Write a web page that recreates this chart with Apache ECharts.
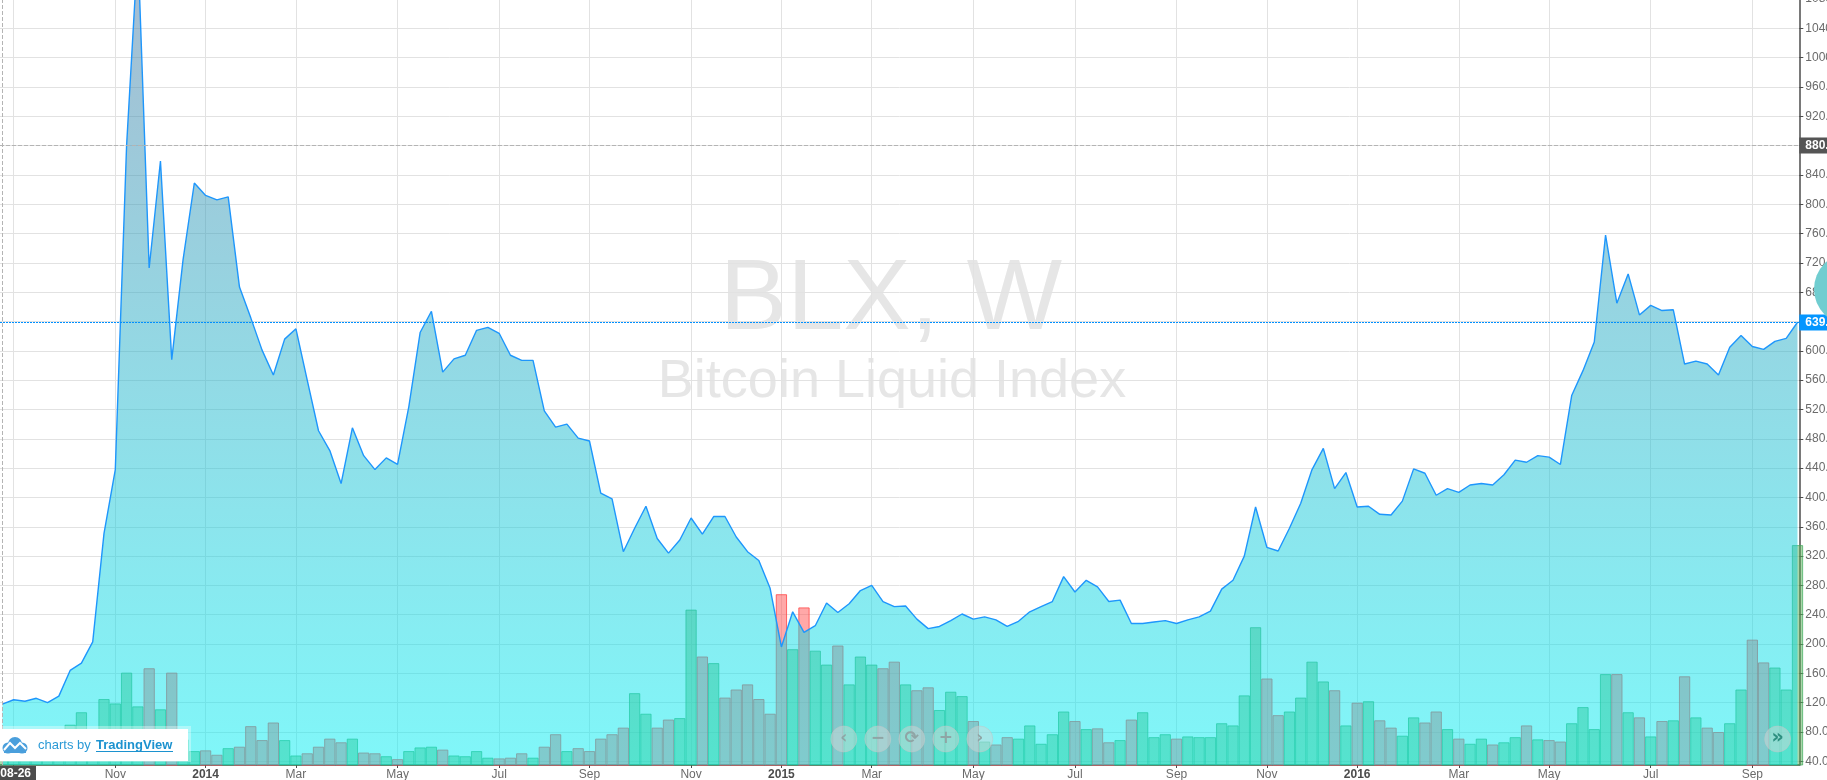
<!DOCTYPE html>
<html>
<head>
<meta charset="utf-8">
<style>html,body{margin:0;padding:0;background:#fff;overflow:hidden}#chart{width:1827px;height:780px}</style>
<script src="https://cdn.jsdelivr.net/npm/echarts@6/dist/echarts.min.js"></script>
</head>
<body>
<div id="chart"></div>
<script>
// Weekly close of the Bitcoin Liquid Index, one value per bar
const closeValues = [
118,124,122,126,120,129,164,174,203,351,
438,880,1150,713,859,588,724,829,812,806,
810,687,645,601,567,616,630,560,491,464,
419,495,457,438,454,445,524,625,654,571,
589,594,628,632,624,594,587,587,518,496,
500,481,477,406,398,326,358,388,344,324,
342,372,350,374,374,346,326,314,276,196,
244,216,225,256,243,255,273,280,258,251,
252,234,221,224,232,241,234,237,233,224,
231,244,251,258,292,271,287,278,258,260,
228,228,230,232,228,233,237,245,275,287,
320,387,332,327,358,392,438,467,412,434,
387,388,377,376,395,439,433,403,412,407,
417,419,417,431,451,448,457,455,445,539,
573,612,758,665,705,649,662,655,656,582,
586,582,567,605,621,606,602,613,617,639
];
// Volume bar heights, expressed on the price scale
const volumeValues = [
60,55,62,60,65,70,90,107,80,125,
119,161,115,167,111,161,70,54,55,49,
58,60,88,69,93,69,48,51,60,71,
66,71,52,51,47,43,54,59,60,56,
48,47,54,45,44,45,51,45,60,77,
54,58,54,71,77,86,133,105,86,97,
99,247,183,174,127,138,145,125,105,268,
193,250,191,172,198,145,183,172,167,176,
145,137,141,110,135,129,95,67,63,73,
71,89,64,77,108,95,84,85,66,69,
97,107,73,77,71,74,73,73,92,89,
130,223,153,103,108,127,176,149,137,89,
120,122,96,86,75,100,93,108,84,71,
64,71,63,66,73,89,70,69,67,92,
114,84,159,159,107,100,74,95,96,156,
100,86,80,92,138,206,175,168,138,335
];
// Bars whose close fell (red volume colour)
const downWeeks = [13,15,18,19,21,22,23,24,27,28,29,30,32,33,35,39,44,45,46,48,49,51,52,53,54,55,58,59,62,64,65,66,67,68,69,71,74,78,79,81,82,86,88,89,95,97,98,100,104,112,113,118,120,122,123,126,127,129,132,135,137,138,143,145,147,149,151,152,155,156];
// Month ticks: week index and label
const tickWeeks  = [1,10,18,26,35,44,52,61,69,77,86,95,104,112,120,129,137,146,155];
const tickLabels = ['Sep','Nov','2014','Mar','May','Jul','Sep','Nov','2015','Mar','May','Jul','Sep','Nov','2016','Mar','May','Jul','Sep'];
const priceTicks = [40,80,120,160,200,240,280,320,360,400,440,480,520,560,600,640,680,720,760,800,840,880,920,960,1000,1040,1080];
const lastPrice = 638.7;
const crosshairPrice = 880;
const crosshairWeek = 0;

const UP_FILL='rgba(85,175,85,0.5)', UP_EDGE='rgba(60,170,90,0.7)';
const DN_FILL='rgba(255,82,82,0.5)', DN_EDGE='rgba(255,70,70,0.8)';
const down = new Set(downWeeks);
const labelFor = new Map(tickWeeks.map((w,i)=>[w,tickLabels[i]]));

const chart = echarts.init(document.getElementById('chart'),null,{renderer:'canvas'});
const navX=[843.8,877.8,911.8,945.8,979.8], navG=['‹','−','⟳','+','›'];
const overlay=[];
navX.forEach((x,i)=>{
  overlay.push({type:'circle',shape:{cx:x,cy:739,r:13},style:{fill:'rgba(205,215,215,0.5)',stroke:'rgba(190,200,200,0.5)',lineWidth:1},z:100,silent:true});
  overlay.push({type:'text',x:x,y:739,style:{text:navG[i],fill:'#8fa5a5',font:'bold 17px "DejaVu Sans"',textAlign:'center',textVerticalAlign:'middle'},z:101,silent:true});
});
overlay.push(
  {type:'circle',shape:{cx:1777.6,cy:739,r:13},style:{fill:'rgba(205,215,215,0.5)',stroke:'rgba(190,200,200,0.5)',lineWidth:1},z:100,silent:true},
  {type:'text',x:1777.6,y:738,style:{text:'»',fill:'#2e8f80',font:'bold 19px "DejaVu Sans"',textAlign:'center',textVerticalAlign:'middle'},z:101,silent:true},
  // large teal disc cut by the right edge
  {type:'circle',shape:{cx:1850,cy:289,r:36},style:{fill:'#70cdd0'},z:105,silent:true},
  // date crosshair label
  {type:'rect',shape:{x:0,y:766,width:36,height:14},style:{fill:'#4c4c4c'},z:110,silent:true},
  {type:'text',x:31,y:774,style:{text:'2013-08-26',fill:'#fff',font:'bold 12px "Liberation Sans"',textAlign:'right',textVerticalAlign:'middle'},z:111,silent:true},
  // TradingView badge
  {type:'rect',shape:{x:0,y:726,width:191,height:36},style:{fill:'rgba(255,255,255,0.35)'},z:110,silent:true},
  {type:'rect',shape:{x:0,y:729,width:188,height:32},style:{fill:'#fff'},z:111,silent:true},
  {type:'circle',shape:{cx:8,cy:748,r:5.5},style:{fill:'#4a9fdc'},z:112,silent:true},
  {type:'circle',shape:{cx:15,cy:744,r:7},style:{fill:'#4a9fdc'},z:112,silent:true},
  {type:'circle',shape:{cx:22,cy:748,r:5.5},style:{fill:'#4a9fdc'},z:112,silent:true},
  {type:'rect',shape:{x:4,y:748,width:22,height:5},style:{fill:'#4a9fdc'},z:112,silent:true},
  {type:'polyline',shape:{points:[[4,750],[10,743],[15,748],[20,743],[26,749]]},style:{stroke:'#fff',lineWidth:2,fill:null},z:113,silent:true},
  {type:'text',x:38,y:745,style:{text:'charts by',fill:'#2b9ad6',font:'13px "Liberation Sans"',textVerticalAlign:'middle'},z:112,silent:true},
  {type:'text',x:96,y:745,style:{text:'TradingView',fill:'#1c92cf',font:'bold 13px "Liberation Sans"',textVerticalAlign:'middle'},z:112,silent:true},
  {type:'rect',shape:{x:96,y:751,width:77,height:1},style:{fill:'#1c92cf'},z:112,silent:true}
);

chart.setOption({
  animation:false,
  backgroundColor:'#fff',
  grid:{left:0,top:-1,width:1799.3,height:766,containLabel:false,outerBoundsMode:'none'},
  xAxis:{
    type:'value',min:-0.2126,max:159.16,
    axisLine:{show:true,onZero:false,lineStyle:{color:'#4c4c4c',width:1.5}},
    axisTick:{show:true,length:3,customValues:tickWeeks,lineStyle:{color:'#4c4c4c'}},
    splitLine:{show:true,lineStyle:{color:'#e2e2e2',width:1}},
    axisLabel:{
      customValues:tickWeeks,margin:4,fontFamily:'Liberation Sans',fontSize:12,color:'#6a6a6a',
      formatter:v=>{const s=labelFor.get(v)||'';return /^20/.test(s)?'{y|'+s+'}':s;},
      rich:{y:{fontFamily:'Liberation Sans',fontSize:12,fontWeight:'bold',color:'#4c4c4c'}}
    }
  },
  yAxis:{
    type:'value',min:35,max:1080,position:'right',
    axisLine:{show:true,onZero:false,lineStyle:{color:'#4c4c4c',width:1.5}},
    axisTick:{show:true,length:4,customValues:priceTicks,lineStyle:{color:'#4c4c4c'}},
    splitLine:{show:true,lineStyle:{color:'#e2e2e2',width:1}},
    axisLabel:{customValues:priceTicks,margin:6,fontFamily:'Liberation Sans',fontSize:12,color:'#6a6a6a',formatter:v=>v.toFixed(1)}
  },
  graphic:{elements:[
    {type:'text',x:891,y:301,z:0,silent:true,style:{text:'BLX, W',fill:'#e6e6e6',font:'101px "Liberation Sans"',textAlign:'center',textVerticalAlign:'middle'}},
    {type:'text',x:892,y:382,z:0,silent:true,style:{text:'Bitcoin Liquid Index',fill:'#e6e6e6',font:'54px "Liberation Sans"',textAlign:'center',textVerticalAlign:'middle'}},
    ...overlay
  ]},
  series:[
    {
      type:'bar',name:'Volume',z:2,barWidth:11.29,
      data:volumeValues.map((v,i)=>({value:[i,v],itemStyle:{color:down.has(i)?DN_FILL:UP_FILL,borderColor:down.has(i)?DN_EDGE:UP_EDGE,borderWidth:1}}))
    },
    {
      type:'line',name:'BLX',z:3,showSymbol:false,silent:true,
      data:closeValues.map((v,i)=>[i,v]),
      lineStyle:{color:'#1e96fc',width:1.4},
      areaStyle:{origin:'start',opacity:1,color:{type:'linear',global:true,x:0,y:0,x2:0,y2:765,colorStops:[
        {offset:0,color:'rgba(75,125,165,0.5)'},{offset:1,color:'rgba(1,239,243,0.5)'}]}},
      markLine:{
        silent:true,symbol:'none',animation:false,clip:false,
        data:[
          {yAxis:crosshairPrice,lineStyle:{color:'#b4b4b4',type:'dashed',width:1},
           label:{show:true,position:'end',distance:0,formatter:'880.0',color:'#fff',fontWeight:'bold',fontFamily:'Liberation Sans',fontSize:12,backgroundColor:'#555',padding:[2,6,2,6]}},
          {yAxis:lastPrice,lineStyle:{color:'#0090ff',type:[2,1],width:1,opacity:1},
           label:{show:true,position:'end',distance:0,formatter:'639.0',color:'#fff',fontWeight:'bold',fontFamily:'Liberation Sans',fontSize:12,backgroundColor:'#0496ff',padding:[2,6,2,6]}},
          {xAxis:crosshairWeek,lineStyle:{color:'#b4b4b4',type:'dashed',width:1},label:{show:false}}
        ]
      }
    }
  ]
});
</script>
</body>
</html>
